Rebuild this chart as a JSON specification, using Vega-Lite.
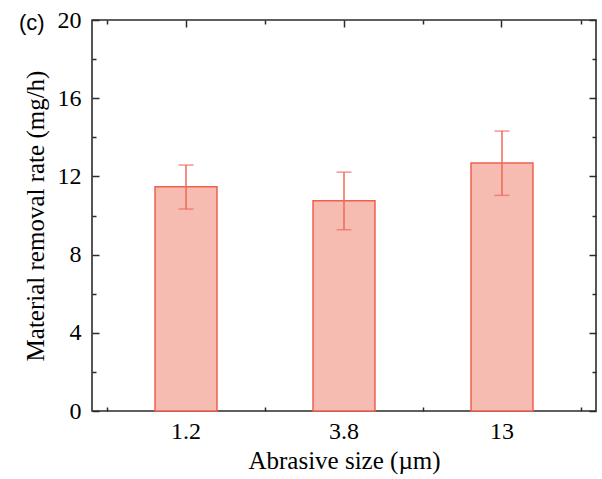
{
  "$schema": "https://vega.github.io/schema/vega-lite/v6.json",
  "width": 504,
  "height": 391,
  "autosize": {"type": "none"},
  "padding": {"left": 92, "top": 20, "right": 6, "bottom": 68},
  "title": {
    "text": "(c)",
    "anchor": "start",
    "frame": "group",
    "orient": "top",
    "font": "Liberation Sans",
    "fontSize": 22,
    "fontWeight": "normal",
    "color": "#000000",
    "baseline": "middle",
    "offset": 0,
    "dx": -73,
    "dy": 37
  },
  "config": {
    "view": {"stroke": "#2b2b2b", "strokeWidth": 1.6},
    "axis": {
      "domain": false,
      "grid": false,
      "tickColor": "#2b2b2b",
      "tickWidth": 1.5,
      "labelFont": "Liberation Serif",
      "labelFontSize": 24,
      "labelColor": "#000000",
      "titleFont": "Liberation Serif",
      "titleFontSize": 25,
      "titleFontWeight": "normal",
      "titleColor": "#000000"
    }
  },
  "data": {
    "values": [
      {"size": "1.2", "rate": 11.47, "lo": 10.33, "hi": 12.58},
      {"size": "3.8", "rate": 10.75, "lo": 9.27, "hi": 12.22},
      {"size": "13", "rate": 12.69, "lo": 11.03, "hi": 14.32}
    ]
  },
  "resolve": {"axis": {"x": "independent", "y": "independent"}},
  "layer": [
    {
      "mark": {
        "type": "bar",
        "width": {"band": 0.392},
        "fill": "#f7bcb1",
        "stroke": "#ee5f4e",
        "strokeWidth": 1.5
      },
      "encoding": {
        "x": {
          "field": "size",
          "type": "nominal",
          "sort": null,
          "scale": {"paddingInner": 0, "paddingOuter": 0.095},
          "axis": {
            "orient": "bottom",
            "title": "Abrasive size (µm)",
            "titlePadding": 5,
            "labelAngle": 0,
            "tickSize": -7,
            "labelPadding": 15
          }
        },
        "y": {
          "field": "rate",
          "type": "quantitative",
          "scale": {"domain": [0, 20], "nice": false},
          "axis": {
            "orient": "left",
            "title": "Material removal rate (mg/h)",
            "values": [0, 4, 8, 12, 16, 20],
            "tickSize": -7,
            "labelPadding": 18,
            "titlePadding": 9
          }
        }
      }
    },
    {
      "mark": {"type": "rule", "color": "#ee6a5a", "strokeWidth": 1.5},
      "encoding": {
        "x": {
          "field": "size",
          "type": "nominal",
          "sort": null,
          "axis": {
            "orient": "bottom",
            "title": null,
            "labels": false,
            "tickBand": "extent",
            "tickSize": -4
          }
        },
        "y": {
          "field": "lo",
          "type": "quantitative",
          "axis": {
            "orient": "left",
            "title": null,
            "labels": false,
            "values": [2, 6, 10, 14, 18],
            "tickSize": -4
          }
        },
        "y2": {"field": "hi"}
      }
    },
    {
      "mark": {"type": "tick", "color": "#ee6a5a", "size": 15, "thickness": 1.5},
      "encoding": {
        "x": {
          "field": "size",
          "type": "nominal",
          "sort": null,
          "axis": {
            "orient": "top",
            "title": null,
            "labels": false,
            "tickSize": -7
          }
        },
        "y": {
          "field": "hi",
          "type": "quantitative",
          "axis": {
            "orient": "right",
            "title": null,
            "labels": false,
            "values": [0, 4, 8, 12, 16, 20],
            "tickSize": -7
          }
        }
      }
    },
    {
      "mark": {"type": "tick", "color": "#ee6a5a", "size": 15, "thickness": 1.5},
      "encoding": {
        "x": {
          "field": "size",
          "type": "nominal",
          "sort": null,
          "axis": {
            "orient": "top",
            "title": null,
            "labels": false,
            "tickBand": "extent",
            "tickSize": -4
          }
        },
        "y": {
          "field": "lo",
          "type": "quantitative",
          "axis": {
            "orient": "right",
            "title": null,
            "labels": false,
            "values": [2, 6, 10, 14, 18],
            "tickSize": -4
          }
        }
      }
    }
  ]
}
